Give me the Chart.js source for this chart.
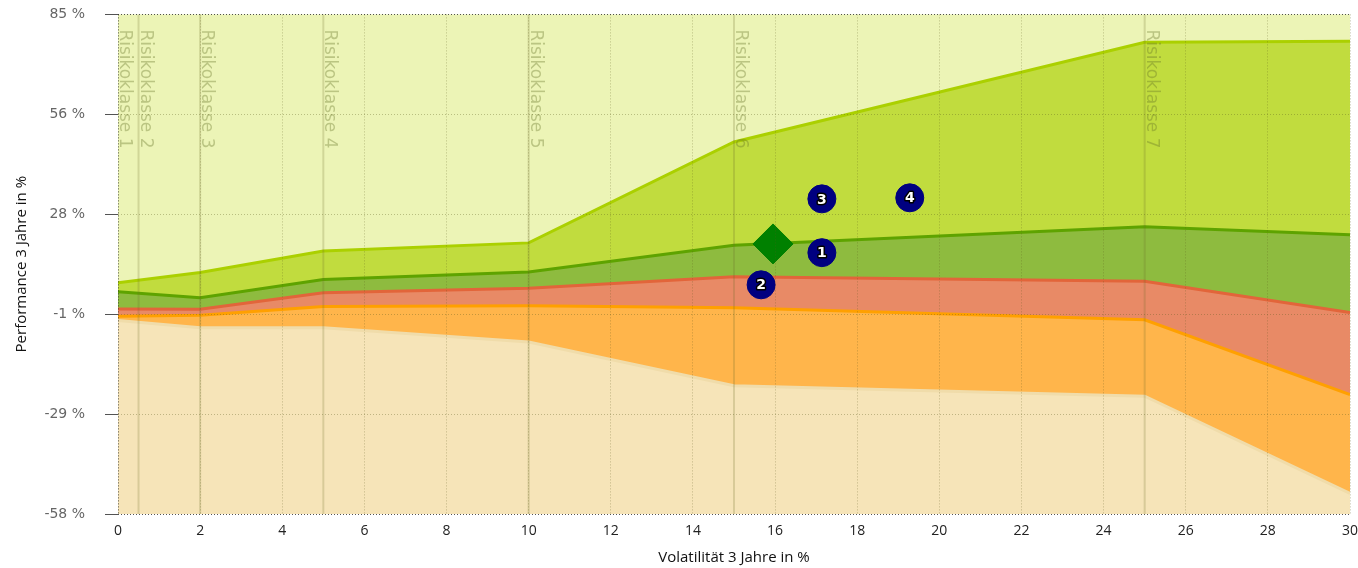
<!DOCTYPE html>
<html lang="de">
<head>
<meta charset="UTF-8">
<title>Risikoklassen</title>
<script src="https://cdn.jsdelivr.net/npm/chart.js"></script>
<style>
  html, body { margin: 0; padding: 0; background: #fff; overflow: hidden; }
  #wrap { position: absolute; left: 0; top: -14px; width: 1371px; height: 582px; }
</style>
</head>
<body>
<div id="wrap"><canvas id="riskChart"></canvas></div>
<script>
// x positions of the band corners (volatility, %)
const volX = [0, 2, 5, 10, 15, 25, 30];
// band boundaries (performance, %), top to bottom
const bandTop    = [8.2, 11.1, 17.3, 19.6, 48.5, 77.0, 77.3];
const bandGreen  = [5.6, 3.9, 9.1, 11.3, 18.9, 24.2, 21.9];
const bandRed    = [0.7, 0.6, 5.3, 6.6, 9.9, 8.6, -0.3];
const bandOrange = [-1.4, -1.1, 1.4, 1.6, 1.0, -2.4, -23.8];
const bandBeige  = [-2.6, -4.7, -4.7, -8.8, -21.3, -24.3, -52.1];

// numbered funds
const fundLabels = ['1', '2', '3', '4'];
const fundX = [17.14, 15.66, 17.14, 19.28];
const fundY = [16.8, 7.6, 32.2, 32.5];

// benchmark diamond
const markX = [15.95];
const markY = [19.3];

// risk classes
const riskX = [0, 0.5, 2, 5, 10, 15, 25];
const riskLabels = ['Risikoklasse 1', 'Risikoklasse 2', 'Risikoklasse 3', 'Risikoklasse 4',
                    'Risikoklasse 5', 'Risikoklasse 6', 'Risikoklasse 7'];

const yTicks = [-58, -29.4, -0.8, 27.8, 56.4, 85];

function pts(xs, ys) { return xs.map((x, i) => ({ x: x, y: ys[i] })); }

function band(data, line, fill, target) {
    return {
        data: pts(volX, data),
        borderColor: line,
        backgroundColor: fill,
        borderWidth: 3,
        pointRadius: 0,
        tension: 0,
        fill: target
    };
}

const bgPlugin = {
    id: 'plotBg',
    beforeDraw(chart) {
        const a = chart.chartArea, ctx = chart.ctx;
        ctx.save();
        ctx.fillStyle = '#ecf4b6';
        ctx.fillRect(a.left, a.top, a.right - a.left, a.bottom - a.top);
        ctx.restore();
    }
};

const riskPlugin = {
    id: 'riskClasses',
    afterDatasetsDraw(chart) {
        const a = chart.chartArea, ctx = chart.ctx, sx = chart.scales.x;
        ctx.save();
        riskX.forEach((v, i) => {
            const px = sx.getPixelForValue(v);
            if (v > 0) {
                ctx.strokeStyle = 'rgba(110,110,40,0.22)';
                ctx.lineWidth = 2;
                ctx.beginPath();
                ctx.moveTo(px, a.top);
                ctx.lineTo(px, a.bottom);
                ctx.stroke();
            }
            ctx.save();
            ctx.translate(px + 2, a.top + 15);
            ctx.rotate(Math.PI / 2);
            ctx.font = '17px "DejaVu Sans"';
            ctx.fillStyle = 'rgba(100,115,40,0.36)';
            ctx.textBaseline = 'alphabetic';
            ctx.fillText(riskLabels[i], 0, 0);
            ctx.restore();
        });
        // numbers on the fund bubbles
        const meta = chart.getDatasetMeta(0);
        ctx.font = 'bold 14px "DejaVu Sans"';
        ctx.textAlign = 'center';
        ctx.textBaseline = 'middle';
        ctx.lineJoin = 'round';
        meta.data.forEach((el, i) => {
            ctx.lineWidth = 3;
            ctx.strokeStyle = '#000';
            ctx.strokeText(fundLabels[i], el.x, el.y + 1);
            ctx.fillStyle = '#fff';
            ctx.fillText(fundLabels[i], el.x, el.y + 1);
        });
        ctx.restore();
    }
};

const darkGrid = 'rgba(40,40,40,0.8)';
const softGrid = 'rgba(90,90,30,0.35)';

new Chart(document.getElementById('riskChart'), {
    type: 'line',
    data: {
        datasets: [
            {
                type: 'scatter',
                data: pts(fundX, fundY),
                backgroundColor: '#000080',
                borderColor: '#000080',
                pointRadius: 14,
                pointHoverRadius: 14,
                showLine: false
            },
            {
                type: 'scatter',
                data: pts(markX, markY),
                backgroundColor: '#008000',
                borderColor: '#008000',
                pointStyle: 'rectRot',
                pointRadius: 20,
                pointHoverRadius: 20,
                showLine: false
            },
            band(bandTop, '#abd000', '#c1dc3e', '+1'),
            band(bandGreen, '#5ea300', '#8ebb3f', '+1'),
            band(bandRed, '#e2653a', '#e88a66', '+1'),
            band(bandOrange, '#ffa000', '#ffb54b', '+1'),
            band(bandBeige, '#f0dcaa', '#f6e4b8', 'start')
        ]
    },
    options: {
        responsive: true,
        maintainAspectRatio: false,
        animation: false,
        layout: { padding: { top: 6, right: 8, left: 0, bottom: 0 } },
        plugins: {
            legend: { display: false },
            tooltip: { enabled: false },
            filler: { drawTime: 'beforeDatasetsDraw' }
        },
        scales: {
            x: {
                type: 'linear',
                min: 0,
                max: 30,
                afterFit(s) { s.height = 54; },
                ticks: {
                    stepSize: 2,
                    padding: 9,
                    color: '#222',
                    font: { family: '"Liberation Sans Narrow", "Open Sans", sans-serif', size: 14 }
                },
                grid: {
                    z: 1,
                    drawTicks: false,
                    color: c => (c.tick && c.tick.value === 0) ? darkGrid : softGrid
                },
                border: { display: false, dash: [1, 2], z: 1 },
                title: {
                    display: true,
                    text: 'Volatilität 3 Jahre in %',
                    color: '#111',
                    padding: { top: 0, bottom: 1 },
                    font: { family: '"Liberation Sans Narrow", "Open Sans", sans-serif', size: 15 }
                }
            },
            y: {
                min: -58,
                max: 85,
                afterFit(s) { s.width = 118; },
                afterBuildTicks(s) { s.ticks = yTicks.map(v => ({ value: v })); },
                ticks: {
                    padding: 20,
                    color: '#666',
                    font: { family: '"DejaVu Sans", sans-serif', size: 14 },
                    callback: v => Math.round(v) + ' %'
                },
                grid: {
                    z: 1,
                    tickLength: 13,
                    color: c => (c.tick && (c.tick.value === 85 || c.tick.value === -58)) ? darkGrid : softGrid,
                    tickColor: darkGrid
                },
                border: { display: false, dash: [1, 2], z: 1 },
                title: {
                    display: true,
                    text: 'Performance 3 Jahre in %',
                    color: '#111',
                    padding: { top: 13, bottom: 0 },
                    font: { family: '"Liberation Sans Narrow", "Open Sans", sans-serif', size: 15 }
                }
            }
        }
    },
    plugins: [bgPlugin, riskPlugin]
});
</script>
</body>
</html>
